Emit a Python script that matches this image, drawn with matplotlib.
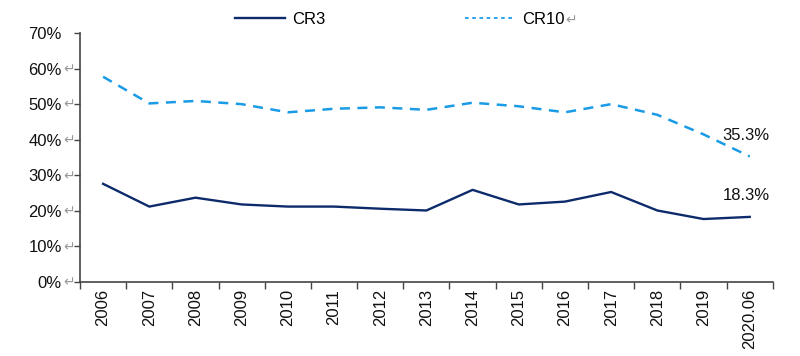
import matplotlib
matplotlib.use("Agg")
import matplotlib.pyplot as plt
from matplotlib.lines import Line2D

plt.rcParams['font.family'] = ['Liberation Sans', 'DejaVu Sans']

years = ["2006", "2007", "2008", "2009", "2010", "2011", "2012", "2013",
         "2014", "2015", "2016", "2017", "2018", "2019", "2020.06"]
cr3 = [27.6, 21.2, 23.7, 21.8, 21.2, 21.2, 20.6, 20.1,
       25.9, 21.8, 22.6, 25.3, 20.1, 17.7, 18.3]
cr10 = [57.7, 50.2, 50.9, 50.0, 47.7, 48.7, 49.1, 48.4,
        50.4, 49.4, 47.7, 50.0, 47.0, 41.5, 35.3]
yticks = [0, 10, 20, 30, 40, 50, 60, 70]
ytick_labels = ["0%", "10%", "20%", "30%", "40%", "50%", "60%", "70%"]

FS = 12

fig = plt.figure(figsize=(8, 3.56), dpi=100)
ax = fig.add_axes([0.1, 0.2079, 0.866, 0.6994])

x = list(range(len(years)))
ax.plot(x, cr3, color='#0D2B6B', lw=1.7, label='CR3')
ax.plot(x, cr10, color='#1A9BE6', lw=1.8, ls=(0, (4, 3)), label='CR10')

ax.set_xlim(-0.5, len(years) - 0.5)
ax.set_ylim(0, 70)
ax.set_yticks(yticks)
ax.set_yticklabels(ytick_labels, fontsize=FS, color='#111111')
ax.set_xticks(x)
ax.set_xticklabels(years, rotation=90, fontsize=FS, color='#111111')
ax.set_xticks([i - 0.5 for i in range(len(years) + 1)], minor=True)
ax.tick_params(axis='x', which='major', length=0, pad=5)
ax.tick_params(axis='x', which='minor', length=5, width=1, color='#444444', direction='out')
ax.tick_params(axis='y', length=4, width=1, color='#444444', direction='out', pad=9)

for s in ['top', 'right']:
    ax.spines[s].set_visible(False)
for s in ['left', 'bottom']:
    ax.spines[s].set_color('#444444')
    ax.spines[s].set_linewidth(1.2)

# paragraph marks after y tick labels
for yv in yticks[:-1]:
    ax.annotate("↵", xy=(0, yv), xycoords=('axes fraction', 'data'),
                xytext=(-7.5, -0.5), textcoords='offset points',
                ha='center', va='center', fontsize=10, color='#999999',
                family='DejaVu Sans')

ax.text(13.92, 41.3, "35.3%", ha='center', va='center', fontsize=FS, color='#111111')
ax.text(13.92, 24.2, "18.3%", ha='center', va='center', fontsize=FS, color='#111111')

# legend
h1 = Line2D([], [], color='#0D2B6B', lw=1.7)
h2 = Line2D([], [], color='#1A9BE6', lw=1.3, ls=(0, (2, 2)))
leg = fig.legend([h1, h2], ["CR3", "CR10"], loc='center', bbox_to_anchor=(0.5, 0.945),
                 ncol=2, frameon=False, fontsize=FS, handlelength=3.0,
                 columnspacing=8.4, handletextpad=0.4)
fig.canvas.draw()
bb = leg.get_texts()[1].get_window_extent()
fig.text((bb.x1 + 1) / fig.bbox.width, (bb.y0 + bb.y1) / 2 / fig.bbox.height - 0.003, "↵",
         ha='left', va='center', fontsize=10, color='#999999', family='DejaVu Sans')

fig.savefig("out.png", dpi=100)
